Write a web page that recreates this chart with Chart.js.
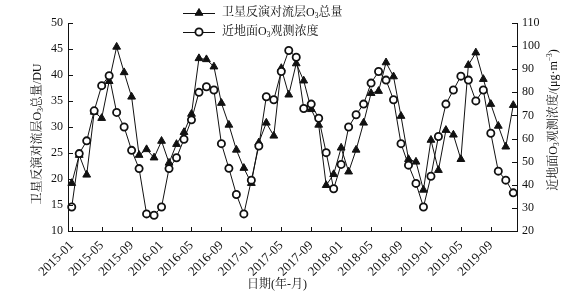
<!DOCTYPE html>
<html>
<head>
<meta charset="utf-8">
<script src="https://cdn.jsdelivr.net/npm/chart.js@4/dist/chart.umd.min.js"></script>
<style>
  body { margin: 0; background: #fff; }
</style>
</head>
<body>
<canvas id="myChart" width="570" height="297"></canvas>
<script>
// months 2015-01 .. 2019-12
const months = [
  '2015-01','2015-02','2015-03','2015-04','2015-05','2015-06','2015-07','2015-08','2015-09','2015-10','2015-11','2015-12',
  '2016-01','2016-02','2016-03','2016-04','2016-05','2016-06','2016-07','2016-08','2016-09','2016-10','2016-11','2016-12',
  '2017-01','2017-02','2017-03','2017-04','2017-05','2017-06','2017-07','2017-08','2017-09','2017-10','2017-11','2017-12',
  '2018-01','2018-02','2018-03','2018-04','2018-05','2018-06','2018-07','2018-08','2018-09','2018-10','2018-11','2018-12',
  '2019-01','2019-02','2019-03','2019-04','2019-05','2019-06','2019-07','2019-08','2019-09','2019-10','2019-11','2019-12'
];
const tickLabels = [
  '2015-01','2015-05','2015-09','2016-01','2016-05','2016-09','2017-01',
  '2017-05','2017-09','2018-01','2018-05','2018-09','2019-01','2019-05','2019-09'
];
// 卫星反演对流层O3总量 (DU), left axis
const satO3 = [
  19.2, 24.6, 20.8, 32.9, 31.7, 38.8, 45.4, 40.5, 35.8, 24.6, 25.7, 24.1,
  27.3, 23.1, 26.7, 29.0, 32.5, 43.2, 43.0, 41.6, 34.6, 30.4, 25.6, 22.1,
  19.2, 27.0, 30.8, 28.3, 41.3, 36.2, 42.2, 38.9, 33.4, 30.4, 18.8, 20.9,
  26.0, 21.4, 25.6, 30.8, 36.5, 36.9, 42.4, 39.7, 32.1, 23.8, 23.3, 17.9,
  27.5, 21.7, 29.4, 28.5, 23.8, 41.9, 44.3, 39.2, 34.4, 30.2, 26.2, 34.2
];
// 近地面O3观测浓度 (μg·m-3), right axis
const groundO3 = [
  30.4, 53.5, 59.0, 72.0, 82.9, 87.2, 71.3, 65.0, 54.9, 47.0, 27.4, 26.8,
  30.4, 47.0, 51.7, 59.7, 68.1, 80.0, 82.4, 81.0, 57.8, 47.1, 35.8, 27.4,
  42.0, 56.8, 78.1, 76.8, 89.0, 98.1, 95.2, 73.0, 74.9, 68.8, 53.9, 38.3,
  48.8, 65.0, 70.3, 74.9, 84.0, 89.0, 85.3, 76.8, 57.8, 48.5, 40.6, 30.4,
  43.7, 60.9, 74.9, 81.0, 87.0, 85.3, 76.3, 81.0, 62.3, 45.9, 42.0, 36.5
];

const fontFam = "'Liberation Serif','Noto Serif CJK SC','Noto Sans CJK SC',serif";
const ink = '#111';

// text with sub/superscripts: parts = [[text, kind]], kind 0 normal, 1 sub, 2 sup
function richWidth(ctx, parts, size) {
  let w = 0;
  parts.forEach(p => {
    ctx.font = (p[1] ? size * 0.62 : size) + 'px ' + fontFam;
    w += ctx.measureText(p[0]).width;
  });
  return w;
}
function drawRich(ctx, parts, x, y, size, center) {
  let cx = center ? x - richWidth(ctx, parts, size) / 2 : x;
  ctx.textBaseline = 'middle';
  ctx.textAlign = 'left';
  parts.forEach(p => {
    ctx.font = (p[1] ? size * 0.62 : size) + 'px ' + fontFam;
    let dy = p[1] === 1 ? size * 0.28 : (p[1] === 2 ? -size * 0.3 : 0);
    ctx.fillText(p[0], cx, y + dy);
    cx += ctx.measureText(p[0]).width;
  });
}

const satLabel = [['卫星反演对流层O', 0], ['3', 1], ['总量', 0]];
const groundLabel = [['近地面O', 0], ['3', 1], ['观测浓度', 0]];

const decorPlugin = {
  id: 'decor',
  afterDraw(chart) {
    const c = chart.ctx;
    const area = chart.chartArea;
    c.save();
    c.strokeStyle = ink;
    c.fillStyle = ink;
    c.lineWidth = 1;
    // inward tick marks
    const xs = chart.scales.x;
    xs.ticks.forEach((t, i) => {
      if (!tickLabels.includes(months[i])) return;
      const px = Math.round(xs.getPixelForTick(i)) + 0.5;
      c.beginPath(); c.moveTo(px, area.bottom); c.lineTo(px, area.bottom - 4); c.stroke();
    });
    const yl = chart.scales.y;
    yl.ticks.forEach((t, i) => {
      const py = Math.round(yl.getPixelForTick(i)) + 0.5;
      c.beginPath(); c.moveTo(area.left, py); c.lineTo(area.left + 5, py); c.stroke();
    });
    const yr = chart.scales.y1;
    yr.ticks.forEach((t, i) => {
      const py = Math.round(yr.getPixelForTick(i)) + 0.5;
      c.beginPath(); c.moveTo(area.right, py); c.lineTo(area.right - 5, py); c.stroke();
    });

    // axis titles
    c.save();
    c.translate(38, 134);
    c.rotate(-Math.PI / 2);
    drawRich(c, [['卫星反演对流层O', 0], ['3', 1], ['总量/DU', 0]], 0, 0, 12, true);
    c.restore();

    c.save();
    c.translate(554, 120);
    c.rotate(-Math.PI / 2);
    drawRich(c, [['近地面O', 0], ['3', 1], ['观测浓度/(μg·m', 0], ['−3', 2], [')', 0]], 0, 0, 12, true);
    c.restore();

    drawRich(c, [['日期(年-月)', 0]], 277, 285, 12, true);

    // legend
    const rows = [
      { y: 13, style: 'triangle', parts: satLabel },
      { y: 32, style: 'circle', parts: groundLabel }
    ];
    rows.forEach(r => {
      c.strokeStyle = ink;
      c.lineWidth = 1;
      c.beginPath(); c.moveTo(183, r.y + 0.5); c.lineTo(215, r.y + 0.5); c.stroke();
      if (r.style === 'triangle') {
        c.fillStyle = ink;
        Chart.helpers.drawPoint(c, { pointStyle: 'triangle', radius: 4.5, borderWidth: 1, rotation: 0 }, 199, r.y);
      } else {
        c.fillStyle = '#fff';
        c.lineWidth = 1.8;
        Chart.helpers.drawPoint(c, { pointStyle: 'circle', radius: 3.6, borderWidth: 1.8, rotation: 0 }, 199, r.y);
      }
      c.fillStyle = ink;
      drawRich(c, r.parts, 222, r.y, 12, false);
    });
    c.restore();
  }
};

const ctx = document.getElementById('myChart').getContext('2d');
const chart = new Chart(ctx, {
  type: 'line',
  data: {
    labels: months,
    datasets: [
      {
        label: '卫星反演对流层O3总量',
        data: satO3,
        yAxisID: 'y',
        borderColor: ink,
        borderWidth: 1,
        pointStyle: 'triangle',
        pointRadius: 4.5,
        pointBackgroundColor: ink,
        pointBorderColor: ink,
        pointBorderWidth: 1,
        tension: 0,
        fill: false,
        order: 2
      },
      {
        label: '近地面O3观测浓度',
        data: groundO3,
        yAxisID: 'y1',
        borderColor: ink,
        borderWidth: 1,
        pointStyle: 'circle',
        pointRadius: 3.6,
        pointBackgroundColor: '#fff',
        pointBorderColor: ink,
        pointBorderWidth: 1.8,
        tension: 0,
        fill: false,
        order: 1
      }
    ]
  },
  options: {
    responsive: false,
    animation: false,
    devicePixelRatio: 1,
    layout: { padding: { top: 23, left: 0, right: 0, bottom: 0 } },
    plugins: {
      legend: { display: false },
      tooltip: { enabled: false }
    },
    scales: {
      x: {
        type: 'category',
        offset: true,
        grid: { display: true, drawOnChartArea: false, drawTicks: false },
        border: { display: true, color: ink, width: 1 },
        ticks: {
          autoSkip: false,
          minRotation: 45,
          maxRotation: 45,
          padding: 7,
          color: ink,
          font: { family: fontFam, size: 13 },
          callback: (v, i) => tickLabels.includes(months[i]) ? months[i] : ''
        },
        afterFit: (s) => { s.height = 66; }
      },
      y: {
        position: 'left',
        min: 10,
        max: 50,
        grid: { display: true, drawOnChartArea: false, drawTicks: false },
        border: { display: true, color: ink, width: 1 },
        ticks: { stepSize: 5, padding: 5, color: ink, font: { family: fontFam, size: 12 } },
        afterFit: (s) => { s.width = 68; }
      },
      y1: {
        position: 'right',
        min: 20,
        max: 110,
        grid: { display: true, drawOnChartArea: false, drawTicks: false },
        border: { display: true, color: ink, width: 1 },
        ticks: { stepSize: 10, padding: 5, color: ink, font: { family: fontFam, size: 12 } },
        afterFit: (s) => { s.width = 53; }
      }
    }
  },
  plugins: [decorPlugin]
});
</script>
</body>
</html>
